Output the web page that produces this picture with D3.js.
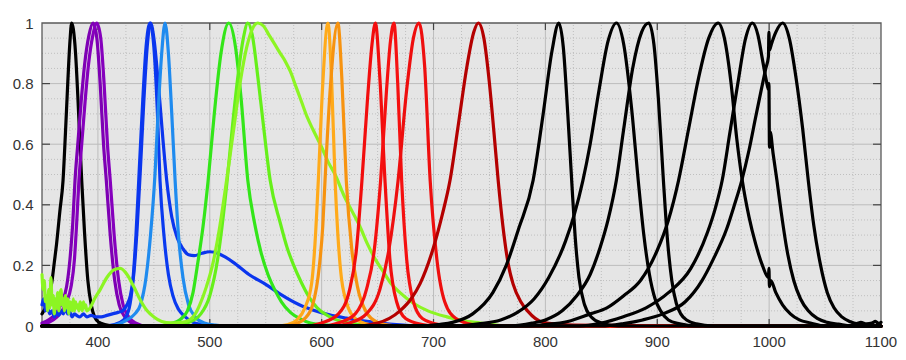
<!DOCTYPE html>
<html><head><meta charset="utf-8">
<script src="https://cdn.jsdelivr.net/npm/d3@7/dist/d3.min.js"></script>
<style>html,body{margin:0;padding:0;background:#fff;}svg{display:block;}</style>
</head><body><svg id="c" width="906" height="360"></svg>
<script>
// ---- data: [wavelength nm, normalized intensity] ----
const uv376 = [[350,0.04],[353,0.06],[356,0.09],[359,0.15],[361,0.21],[363,0.27],[366,0.38],[368.8,0.48],[371,0.64],[373,0.8],[375,0.94],[376.5,1],[378,0.98],[380,0.9],[382,0.76],[384,0.6],[385.5,0.48],[388,0.31],[391,0.15],[394,0.07],[397,0.03],[401,0.012],[406,0.005],[415,0],[1100,0]];
const violet396 = [[350,0.01],[356,0.02],[362,0.04],[368,0.08],[372,0.13],[375,0.22],[377.5,0.34],[379.5,0.48],[382,0.6],[385,0.74],[388,0.86],[392,0.96],[395.6,1],[399,0.95],[402,0.8],[405,0.6],[407.5,0.48],[411,0.3],[415,0.15],[419,0.07],[424,0.03],[430,0.01],[440,0],[1100,0]];
const violet399 = [[350,0.005],[360,0.02],[366,0.04],[372,0.08],[376,0.13],[379,0.22],[381,0.34],[383,0.48],[385.5,0.6],[388.5,0.74],[391.5,0.86],[395.5,0.96],[399,1],[402.5,0.95],[405.5,0.8],[408.5,0.6],[411,0.48],[414.5,0.3],[418.5,0.15],[422.5,0.07],[427.5,0.03],[433.5,0.01],[443,0],[1100,0]];
const blue447a = [[350,0],[405,0],[415,0.005],[423,0.02],[428,0.06],[431,0.14],[434,0.3],[437,0.52],[440,0.74],[443,0.92],[446.5,1],[450,0.92],[453,0.72],[455.5,0.48],[459,0.3],[463,0.17],[467,0.1],[472,0.055],[478,0.03],[485,0.012],[492,0.005],[500,0],[1100,0]];
const blue447b = [[350,0.07],[351.5,0.09],[353,0.05],[355,0.06],[357,0.04],[359,0.05],[361,0.03],[363,0.045],[365,0.035],[367,0.05],[369,0.04],[371,0.06],[373,0.04],[375,0.045],[377,0.03],[379,0.04],[381,0.035],[384,0.03],[387,0.04],[390,0.03],[394,0.035],[398,0.03],[403,0.03],[408,0.035],[413,0.04],[418,0.045],[422,0.05],[426,0.07],[429,0.1],[432,0.17],[435,0.32],[438,0.52],[441,0.74],[444,0.92],[447,1],[450,0.95],[454,0.8],[458,0.62],[461.5,0.48],[466,0.36],[471,0.29],[476,0.255],[481,0.235],[486,0.232],[493,0.24],[500,0.245],[507,0.24],[514,0.227],[521,0.21],[535,0.17],[551,0.135],[563,0.105],[580,0.07],[592,0.053],[607,0.037],[622,0.026],[637,0.017],[652,0.01],[670,0.004],[690,0],[1100,0]];
const cyan460 = [[350,0],[410,0],[418,0.006],[426,0.02],[433,0.04],[438,0.07],[443,0.16],[447,0.3],[451,0.5],[454,0.72],[457,0.9],[460,1],[463,0.9],[466,0.7],[469,0.48],[472,0.3],[476,0.16],[481,0.07],[487,0.03],[495,0.01],[505,0.003],[515,0],[1100,0]];
const green517 = [[350,0],[455,0],[465,0.008],[473,0.02],[480,0.05],[485,0.11],[488.5,0.19],[494,0.33],[498.5,0.48],[504,0.7],[510,0.9],[517,1],[523,0.92],[528,0.75],[534,0.48],[540,0.34],[546,0.24],[552,0.17],[558,0.12],[564,0.08],[572,0.045],[580,0.025],[590,0.01],[605,0.003],[620,0],[1100,0]];
const green534 = [[350,0],[465,0],[480,0.01],[492,0.04],[500,0.1],[507,0.22],[511,0.33],[515.5,0.48],[520,0.65],[525,0.82],[530,0.95],[534,1],[538,0.96],[543,0.82],[548,0.66],[554,0.48],[563,0.34],[569,0.26],[575,0.2],[581,0.15],[588,0.1],[596,0.06],[605,0.035],[615,0.018],[630,0.007],[650,0],[1100,0]];
const lime543 = [[350,0.17],[351,0.12],[352,0.15],[353,0.08],[354,0.1],[355,0.05],[356,0.12],[357,0.06],[358,0.16],[359,0.07],[360,0.1],[361,0.04],[362,0.09],[363,0.06],[364,0.11],[365,0.05],[366,0.1],[367,0.12],[368,0.07],[369,0.09],[370,0.05],[371,0.1],[372,0.06],[373,0.09],[374,0.04],[375,0.08],[376,0.07],[377,0.05],[378,0.09],[379,0.05],[380,0.08],[381,0.06],[382,0.07],[383,0.05],[384,0.08],[385,0.07],[386,0.05],[387,0.08],[388,0.06],[389,0.07],[390,0.05],[393,0.06],[397,0.09],[402,0.12],[408,0.16],[414,0.185],[420,0.19],[426,0.17],[432,0.13],[438,0.085],[444,0.05],[450,0.03],[457,0.015],[465,0.01],[475,0.012],[482,0.02],[487,0.04],[491,0.07],[497,0.13],[503,0.21],[509,0.33],[515,0.48],[521,0.64],[527,0.8],[533,0.92],[538,0.98],[543,1],[548,0.99],[553,0.96],[558,0.93],[563,0.9],[568,0.87],[572,0.84],[577,0.79],[582,0.74],[587,0.69],[592,0.65],[600,0.59],[606,0.54],[612,0.5],[620,0.43],[627,0.38],[634,0.33],[641,0.27],[648,0.22],[655,0.18],[662,0.14],[670,0.11],[682,0.075],[695,0.05],[712,0.03],[727,0.017],[742,0.01],[755,0.004],[765,0],[1100,0]];
const amber606 = [[350,0],[560,0],[570,0.005],[578,0.02],[585,0.06],[591,0.14],[594,0.27],[597,0.48],[601,0.8],[605.6,1],[609,0.8],[612,0.48],[614.5,0.3],[617,0.18],[622,0.08],[630,0.025],[640,0.007],[650,0],[1100,0]];
const orange615 = [[350,0],[565,0],[575,0.005],[585,0.025],[592,0.07],[598,0.2],[601,0.33],[603,0.48],[608,0.8],[614.5,1],[618,0.82],[622,0.48],[627,0.25],[632,0.13],[640,0.045],[650,0.012],[660,0.003],[670,0],[1100,0]];
const red648 = [[350,0],[585,0],[600,0.01],[615,0.04],[625,0.12],[631,0.25],[636,0.48],[641,0.75],[645,0.93],[648,1],[652,0.82],[656.6,0.48],[661,0.22],[667,0.08],[675,0.025],[690,0.005],[700,0],[1100,0]];
const red665 = [[350,0],[600,0],[615,0.01],[630,0.04],[640,0.12],[647,0.25],[652.7,0.48],[658,0.78],[661.5,0.94],[664.6,1],[668,0.8],[671.5,0.48],[676,0.22],[682,0.08],[690,0.025],[705,0.005],[720,0],[1100,0]];
const red687 = [[350,0],[610,0],[625,0.01],[640,0.04],[652,0.12],[660,0.25],[668.3,0.48],[676,0.78],[682,0.95],[687,1],[692,0.86],[697,0.48],[703,0.22],[710,0.08],[720,0.025],[735,0.005],[750,0],[1100,0]];
const deepRed740 = [[350,0],[630,0],[650,0.01],[670,0.05],[680,0.09],[688,0.14],[700,0.26],[708,0.37],[714.7,0.48],[722,0.66],[730,0.86],[736,0.97],[740,1],[745,0.95],[750,0.8],[754,0.64],[757.8,0.48],[762,0.33],[767,0.2],[771,0.14],[778,0.08],[784,0.05],[798,0.012],[820,0.004],[860,0.002],[900,0],[1100,0]];
const ir812 = [[350,0],[690,0],[705,0.005],[717,0.012],[735,0.04],[753,0.11],[765,0.2],[776,0.32],[789,0.48],[798,0.7],[806,0.91],[812,1],[816,0.92],[820,0.7],[823.5,0.48],[826.5,0.3],[830,0.16],[835,0.07],[841,0.03],[850,0.01],[865,0],[1100,0]];
const ir864 = [[350,0],[720,0],[740,0.007],[760,0.02],[775,0.045],[790,0.09],[803,0.16],[818,0.28],[826,0.37],[833.5,0.48],[840,0.6],[848,0.78],[856,0.94],[863.5,1],[870,0.93],[877,0.72],[883,0.48],[888,0.3],[893,0.17],[898,0.09],[903,0.05],[910,0.02],[920,0.007],[935,0],[1100,0]];
const ir892 = [[350,0],[770,0],[789,0.01],[800,0.02],[815,0.05],[828,0.1],[840,0.17],[849,0.26],[856,0.35],[863.4,0.48],[870,0.65],[878,0.85],[886,0.97],[892.4,1],[897,0.93],[901,0.75],[905.5,0.48],[909,0.29],[913,0.15],[917,0.075],[921,0.04],[927,0.018],[935,0.007],[950,0],[1100,0]];
const ir954 = [[350,0],[780,0],[800,0.005],[820,0.015],[840,0.04],[855,0.06],[870,0.1],[885,0.15],[900,0.25],[910,0.35],[919,0.48],[928,0.65],[937,0.82],[946,0.95],[954.4,1],[960,0.95],[966,0.8],[971,0.62],[976,0.48],[982,0.36],[988,0.27],[994,0.2],[999.4,0.16],[999.8,0.19],[1000.3,0.13],[1001.5,0.15],[1006,0.11],[1012,0.07],[1019,0.04],[1027,0.02],[1037,0.01],[1050,0],[1100,0]];
const ir985 = [[350,0],[830,0],[850,0.01],[869,0.03],[890,0.06],[910,0.11],[930,0.19],[945,0.31],[952,0.39],[958,0.48],[965,0.64],[972,0.8],[979,0.95],[985,1],[990,0.96],[994,0.88],[997.5,0.81],[999.4,0.78],[999.8,0.8],[1000.3,0.59],[1001,0.64],[1003.5,0.57],[1007,0.48],[1011,0.37],[1016,0.25],[1022,0.15],[1028,0.09],[1035,0.05],[1043,0.025],[1052,0.012],[1062,0.006],[1075,0],[1100,0]];
const ir1012 = [[350,0],[850,0],[870,0.008],[887,0.02],[905,0.04],[925,0.08],[940,0.15],[950,0.22],[962,0.32],[969,0.4],[975.5,0.48],[982,0.58],[988,0.69],[993,0.78],[997,0.85],[999.4,0.89],[999.8,0.97],[1000.3,0.91],[1002,0.93],[1006,0.97],[1012,1],[1018,0.95],[1024,0.82],[1030,0.65],[1035,0.48],[1040,0.33],[1046,0.2],[1052,0.11],[1058,0.06],[1065,0.03],[1072,0.015],[1078,0.008],[1082,0.012],[1087,0.007],[1092,0.01],[1095,0.015],[1098,0.008],[1100,0.012]];

const xTicks = [400, 500, 600, 700, 800, 900, 1000, 1100];
const yTicks = [0, 0.2, 0.4, 0.6, 0.8, 1];
const yTickLabels = ["0", "0.2", "0.4", "0.6", "0.8", "1"];
const xDomain = [350, 1100];
const yDomain = [0, 1];

// series list (draw order) with colours
const series = [
  {d: uv376, c: "#000000"},
  {d: violet396, c: "#7e00b4"},
  {d: violet399, c: "#8600bd"},
  {d: blue447a, c: "#0a3af0"},
  {d: blue447b, c: "#0b35ee"},
  {d: cyan460, c: "#1f8bef"},
  {d: green517, c: "#33e619"},
  {d: green534, c: "#66f01a"},
  {d: lime543, c: "#8cf523"},
  {d: amber606, c: "#ffaa1a"},
  {d: orange615, c: "#f7930f"},
  {d: red648, c: "#f20d0d"},
  {d: red665, c: "#f51010"},
  {d: red687, c: "#ee0e0e"},
  {d: deepRed740, c: "#b40000"},
  {d: ir812, c: "#000000"},
  {d: ir864, c: "#000000"},
  {d: ir892, c: "#000000"},
  {d: ir954, c: "#000000"},
  {d: ir985, c: "#000000"},
  {d: ir1012, c: "#000000"}
];

// ---- layout ----
const W = 906, H = 360;
const m = {l: 42, r: 25, t: 23, b: 34};
const x = d3.scaleLinear().domain(xDomain).range([m.l, W - m.r]);
const y = d3.scaleLinear().domain(yDomain).range([H - m.b, m.t]);
const svg = d3.select("#c");
const font = "'Liberation Sans', Arial, Helvetica, sans-serif";

// background
svg.append("rect").attr("x", x(350)).attr("y", y(1)).attr("width", x(1100) - x(350)).attr("height", y(0) - y(1)).attr("fill", "#e5e5e5");

// minor grid
const xMinor = d3.range(375, 1100, 25).filter(v => v % 100 !== 0);
const yMinor = d3.range(1, 20).map(i => i * 0.05).filter(v => Math.abs(v / 0.2 - Math.round(v / 0.2)) > 1e-6);
const g = svg.append("g");
g.selectAll(".xm").data(xMinor).join("line").attr("x1", d => x(d)).attr("x2", d => x(d)).attr("y1", y(0)).attr("y2", y(1))
  .attr("stroke", "#bfbfbf").attr("stroke-width", 1).attr("stroke-dasharray", "1,2");
g.selectAll(".ym").data(yMinor).join("line").attr("y1", d => y(d)).attr("y2", d => y(d)).attr("x1", x(350)).attr("x2", x(1100))
  .attr("stroke", "#bfbfbf").attr("stroke-width", 1).attr("stroke-dasharray", "1,2");
// major grid
g.selectAll(".xM").data(xTicks.filter(v => v < 1100)).join("line").attr("x1", d => x(d)).attr("x2", d => x(d)).attr("y1", y(0)).attr("y2", y(1))
  .attr("stroke", "#bcbcbc").attr("stroke-width", 1);
g.selectAll(".yM").data(yTicks.filter(v => v > 0 && v < 1)).join("line").attr("y1", d => y(d)).attr("y2", d => y(d)).attr("x1", x(350)).attr("x2", x(1100))
  .attr("stroke", "#bcbcbc").attr("stroke-width", 1);

// box (top/left/right)
svg.append("path").attr("d", `M${x(350)},${y(0)}V${y(1)}H${x(1100)}V${y(0)}`).attr("fill", "none").attr("stroke", "#5a5a5a").attr("stroke-width", 1.3);

// ticks inside
const tk = svg.append("g").attr("stroke", "#444").attr("stroke-width", 1.2);
xTicks.filter(v => v < 1100).forEach(v => {
  tk.append("line").attr("x1", x(v)).attr("x2", x(v)).attr("y1", y(1)).attr("y2", y(1) + 7);
  tk.append("line").attr("x1", x(v)).attr("x2", x(v)).attr("y1", y(0)).attr("y2", y(0) - 7);
});
yTicks.filter(v => v > 0 && v < 1).forEach(v => {
  tk.append("line").attr("x1", x(350)).attr("x2", x(350) + 8).attr("y1", y(v)).attr("y2", y(v));
  tk.append("line").attr("x1", x(1100)).attr("x2", x(1100) - 8).attr("y1", y(v)).attr("y2", y(v));
});

// curves
const line = d3.line().x(d => x(d[0])).y(d => y(d[1])).curve(d3.curveMonotoneX);
svg.append("g").selectAll("path").data(series).join("path")
  .attr("d", s => line(s.d)).attr("fill", "none").attr("stroke", s => s.c)
  .attr("stroke-width", 3.2).attr("stroke-linejoin", "round").attr("stroke-linecap", "round");

// tick labels
svg.append("g").selectAll("text").data(xTicks).join("text")
  .attr("x", d => x(d)).attr("y", H - m.b + 21).attr("text-anchor", "middle")
  .attr("font-family", font).attr("font-size", 15).attr("fill", "#333").text(d => d);
svg.append("g").selectAll("text").data(yTicks).join("text")
  .attr("x", 33.5).attr("y", d => y(d) + 5.5).attr("text-anchor", "end")
  .attr("font-family", font).attr("font-size", 15).attr("fill", "#333").text((d, i) => yTickLabels[i]);
</script></body></html>
